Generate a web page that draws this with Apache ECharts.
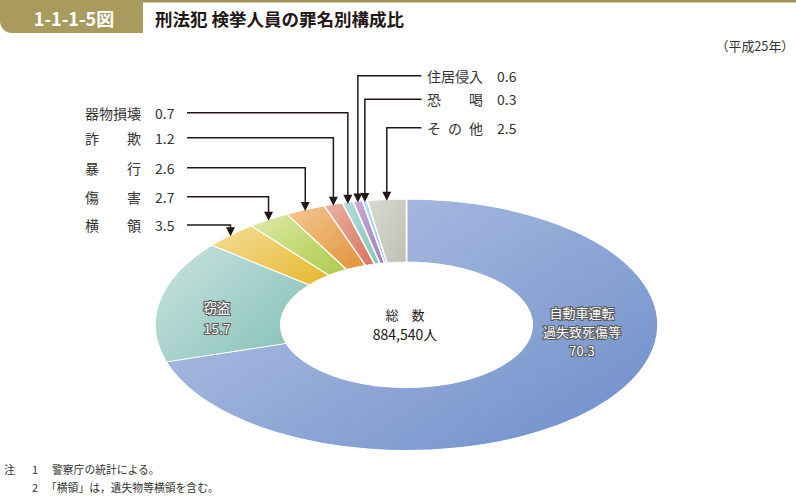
<!DOCTYPE html>
<html><head><meta charset="utf-8">
<script src="https://cdn.jsdelivr.net/npm/echarts@6/dist/echarts.min.js"></script>
<style>
html,body{margin:0;padding:0;background:#fff;}
#wrap{position:relative;width:796px;height:498px;overflow:hidden;background:#fff;}
#pie{position:absolute;left:0;width:796px;height:507px;transform:scaleY(0.5);transform-origin:0 0;}
#main{position:absolute;left:0;top:0;width:796px;height:498px;}
</style></head><body>
<div id="wrap"><div id="pie"></div><div id="main"></div></div>
<script>
// ---- data ----
const categories = ['自動車運転過失致死傷等','窃盗','横領','傷害','暴行','詐欺','器物損壊','住居侵入','恐喝','その他'];
const values = [70.3, 15.7, 3.5, 2.7, 2.6, 1.2, 0.7, 0.6, 0.3, 2.5];
const totalPersons = '884,540';
const figNo = '1-1-1-5図';
const figTitle = '刑法犯 検挙人員の罪名別構成比';
const yearLabel = '（平成25年）';
const notes = ['警察庁の統計による。', '「横領」は，遺失物等横領を含む。'];
const leftLabelOrder = ['器物損壊','詐欺','暴行','傷害','横領'];
const rightLabelOrder = ['住居侵入','恐喝','その他'];

// ---- styles / layout ----
const colorsLight = ['#bac6e7','#cbe4e0','#f3de98','#dfeaa9','#f2c992','#ebb3a3','#b4ded8','#ccaddb','#badff6','#dadad2'];
const colorsDark  = ['#7292cb','#88c2b9','#e8bb36','#b0cd52','#e39742','#db7864','#88c8be','#a582c0','#84c2eb','#c2c2b6'];
const FONT = "'Noto Sans CJK JP','Noto Sans',sans-serif";
const INK = '#231815';
const CX = 406.5, CY = 325, R = 251.5, SQ = 0.5;
const leftLabelY = [112.7, 137.7, 167.7, 196.7, 225];
const rightLabelY = [75.7, 99.3, 127.7];

// pie container placement (vertical squash to ellipse)
const pieDiv = document.getElementById('pie');
const PCY = R + 2;
pieDiv.style.top = (CY - PCY * SQ) + 'px';

const pie = echarts.init(pieDiv, null, {renderer: 'svg'});
pie.setOption({
  animation: false,
  series: [{
    type: 'pie',
    center: [CX, PCY],
    radius: [R * 0.5, R],
    startAngle: 90,
    clockwise: true,
    silent: true,
    label: {show: false},
    labelLine: {show: false},
    emphasis: {disabled: true},
    itemStyle: {borderColor: '#ffffff', borderWidth: 1.6},
    data: categories.map((n, i) => ({
      name: n, value: values[i],
      itemStyle: {color: new echarts.graphic.LinearGradient(0, 0, 1, 0.8, [
        {offset: 0, color: colorsLight[i]}, {offset: 1, color: colorsDark[i]}])}
    }))
  }]
});

// mid-angle tip positions derived from the data
const total = values.reduce((a, b) => a + b, 0);
const tips = {};
let cum = 0;
categories.forEach((n, i) => {
  const mid = (cum + values[i] / 2) / total * 360;
  cum += values[i];
  const th = (90 - mid) * Math.PI / 180;
  tips[n] = [CX + R * Math.cos(th), CY - R * SQ * Math.sin(th) + 1];
});

function disp(n) {
  if (n.length === 2) return n[0] + '\u3000\u3000' + n[1];
  if (n.length === 3) return n.split('').join('\u2002');
  return n;
}
function txt(text, x, y, opt) {
  opt = opt || {};
  return {type: 'text', silent: true, z: 10, style: Object.assign({
    text: text, x: x, y: y, fill: INK, font: (opt.weight || 'normal') + ' ' + (opt.size || 14) + 'px ' + FONT,
    align: opt.align || 'left', verticalAlign: 'middle', textAlign: opt.align || 'left', textVerticalAlign: 'middle'
  }, opt.extra || {})};
}
function arrow(x0, y, tip) {
  const tx = tip[0], ty = tip[1];
  return [
    {type: 'polyline', silent: true, shape: {points: [[x0, y], [tx, y], [tx, ty - 7]]}, style: {stroke: INK, lineWidth: 1.5, fill: null}},
    {type: 'polygon', silent: true, shape: {points: [[tx - 4.5, ty - 9], [tx + 4.5, ty - 9], [tx, ty]]}, style: {fill: INK}}
  ];
}

const g = [];
// title
g.push({type: 'rect', silent: true, shape: {x: 0, y: 0, width: 143, height: 33, r: [0, 0, 0, 12]}, style: {fill: '#a99b5d'}});
g.push({type: 'rect', silent: true, shape: {x: 143, y: 0, width: 653, height: 2.5}, style: {fill: '#a0925a'}});
g.push(txt(figNo, 74, 17.5, {size: 18, weight: 'bold', align: 'center', extra: {fill: '#ffffff'}}));
g.push(txt(figTitle, 155, 18.5, {size: 17.5, weight: 'bold'}));
g.push(txt(yearLabel, 794, 45, {size: 12.8, align: 'right', extra: {fill: '#333'}}));

// left labels
leftLabelOrder.forEach((n, k) => {
  const i = categories.indexOf(n), y = leftLabelY[k];
  g.push(txt(disp(n), 85, y, {size: 14, extra: {fill: '#333'}}));
  g.push(txt(values[i].toFixed(1), 155, y, {size: 14, extra: {fill: '#333'}}));
  arrow(187, y, tips[n]).forEach(e => g.push(e));
});
// right labels
rightLabelOrder.forEach((n, k) => {
  const i = categories.indexOf(n), y = rightLabelY[k];
  g.push(txt(disp(n), 427, y, {size: 14, extra: {fill: '#333'}}));
  g.push(txt(values[i].toFixed(1), 497, y, {size: 14, extra: {fill: '#333'}}));
  arrow(421.5, y, tips[n]).forEach(e => g.push(e));
});

// center text
g.push(txt('総\u3000数', 405, 314, {size: 13, align: 'center'}));
g.push(txt(totalPersons + '人', 405, 334, {size: 14, align: 'center'}));

// slice labels (white with dark outline)
const outl = {fill: '#ffffff', stroke: '#5a5a5a', lineWidth: 2.2};
g.push(txt('自動車運転', 582, 312.5, {size: 13, align: 'center', extra: outl}));
g.push(txt('過失致死傷等', 582, 331.7, {size: 13, align: 'center', extra: outl}));
g.push(txt(values[0].toFixed(1), 582, 350.9, {size: 13, align: 'center', extra: outl}));
g.push(txt('窃盗', 217, 307.3, {size: 13.5, align: 'center', extra: outl}));
g.push(txt(values[1].toFixed(1), 217, 327.5, {size: 14, align: 'center', extra: outl}));

// notes
g.push(txt('注', 4, 468.5, {size: 11, extra: {fill: '#333'}}));
g.push(txt('1', 32, 468.5, {size: 11, extra: {fill: '#333'}}));
g.push(txt(notes[0], 52, 468.5, {size: 10.8, extra: {fill: '#333'}}));
g.push(txt('2', 32, 487, {size: 11, extra: {fill: '#333'}}));
g.push(txt(notes[1], 46, 487, {size: 10.8, extra: {fill: '#333'}}));

const main = echarts.init(document.getElementById('main'), null, {renderer: 'svg'});
main.setOption({animation: false, graphic: {elements: g}});
</script>
</body></html>
